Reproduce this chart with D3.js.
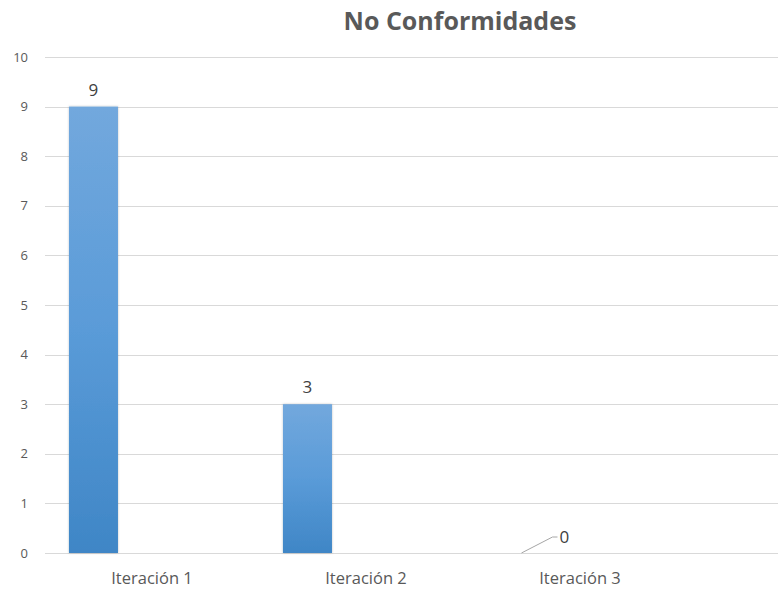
<!DOCTYPE html>
<html>
<head>
<meta charset="utf-8">
<script src="https://cdn.jsdelivr.net/npm/d3@7"></script>
<style>
  html, body { margin: 0; padding: 0; background: #fff; }
  svg { display: block; }
</style>
</head>
<body>
<svg id="chart" width="778" height="590"></svg>
<script>
// Chart data
const categories = ["Iteración 1", "Iteración 2", "Iteración 3"];
const values = [9, 3, 0];
const yTicks = [0, 1, 2, 3, 4, 5, 6, 7, 8, 9, 10];
const chartTitle = "No Conformidades";

const W = 778, H = 590;
const svg = d3.select("#chart");
const font = "'Open Sans', 'Noto Sans', sans-serif";

const plot = { left: 45, right: 778, top: 57, bottom: 553 };

const x = d3.scaleBand().domain(categories).range([plot.left, 687]).padding(0);
const y = d3.scaleLinear().domain([0, 10]).range([plot.bottom, plot.top]);

// Bar gradient
const defs = svg.append("defs");
const grad = defs.append("linearGradient")
  .attr("id", "barGrad").attr("x1", 0).attr("y1", 0).attr("x2", 0).attr("y2", 1);
grad.append("stop").attr("offset", "0%").attr("stop-color", "#72a8dd");
grad.append("stop").attr("offset", "50%").attr("stop-color", "#5a9bd8");
grad.append("stop").attr("offset", "100%").attr("stop-color", "#3f86c6");

const shadow = defs.append("filter").attr("id", "barShadow")
  .attr("x", "-20%").attr("y", "-5%").attr("width", "140%").attr("height", "110%");
shadow.append("feDropShadow").attr("dx", 0).attr("dy", 0).attr("stdDeviation", 1.2)
  .attr("flood-color", "#000").attr("flood-opacity", 0.25);

// Gridlines
svg.append("g").selectAll("line").data(yTicks).join("line")
  .attr("x1", plot.left).attr("x2", plot.right)
  .attr("y1", d => Math.round(y(d)) + 0.5).attr("y2", d => Math.round(y(d)) + 0.5)
  .attr("stroke", "#d9d9d9").attr("stroke-width", 1);

// Y axis labels
svg.append("g").selectAll("text").data(yTicks).join("text")
  .attr("x", 28).attr("y", d => y(d))
  .attr("dy", "0.35em")
  .attr("text-anchor", "end")
  .attr("font-family", font).attr("font-size", 13)
  .attr("fill", "#595959")
  .text(d => d);

// Bars
const bw = x.bandwidth();
const barOffset = bw * 0.112, barWidth = bw * 0.229;
const data = categories.map((c, i) => ({ c, v: values[i] }));

svg.append("g").selectAll("rect").data(data.filter(d => d.v > 0)).join("rect")
  .attr("x", d => x(d.c) + barOffset)
  .attr("y", d => y(d.v))
  .attr("width", barWidth)
  .attr("height", d => y(0) - y(d.v))
  .attr("fill", "url(#barGrad)")
  .attr("filter", "url(#barShadow)");

// Value labels
const labels = svg.append("g");
data.forEach(d => {
  const cx = x(d.c) + barOffset + barWidth / 2;
  if (d.v > 0) {
    labels.append("text")
      .attr("x", cx).attr("y", y(d.v) - 11)
      .attr("text-anchor", "middle")
      .attr("font-family", font).attr("font-size", 17)
      .attr("fill", "#404040")
      .text(d.v);
  } else {
    // Leader line for a zero-height bar
    const y0 = y(0);
    labels.append("path")
      .attr("d", `M${cx},${y0} L${cx + 31},${y0 - 16} L${cx + 36},${y0 - 16}`)
      .attr("fill", "none").attr("stroke", "#a6a6a6").attr("stroke-width", 1);
    labels.append("text")
      .attr("x", cx + 38).attr("y", y0 - 16)
      .attr("dy", "0.35em")
      .attr("font-family", font).attr("font-size", 17)
      .attr("fill", "#404040")
      .text(d.v);
  }
});

// Category labels
svg.append("g").selectAll("text").data(categories).join("text")
  .attr("x", d => x(d) + bw / 2).attr("y", 584)
  .attr("text-anchor", "middle")
  .attr("font-family", font).attr("font-size", 16.5)
  .attr("fill", "#595959")
  .text(d => d);

// Title
svg.append("text")
  .attr("x", 460).attr("y", 30)
  .attr("text-anchor", "middle")
  .attr("font-family", font).attr("font-size", 25).attr("font-weight", "bold")
  .attr("fill", "#595959")
  .text(chartTitle);
</script>
</body>
</html>
